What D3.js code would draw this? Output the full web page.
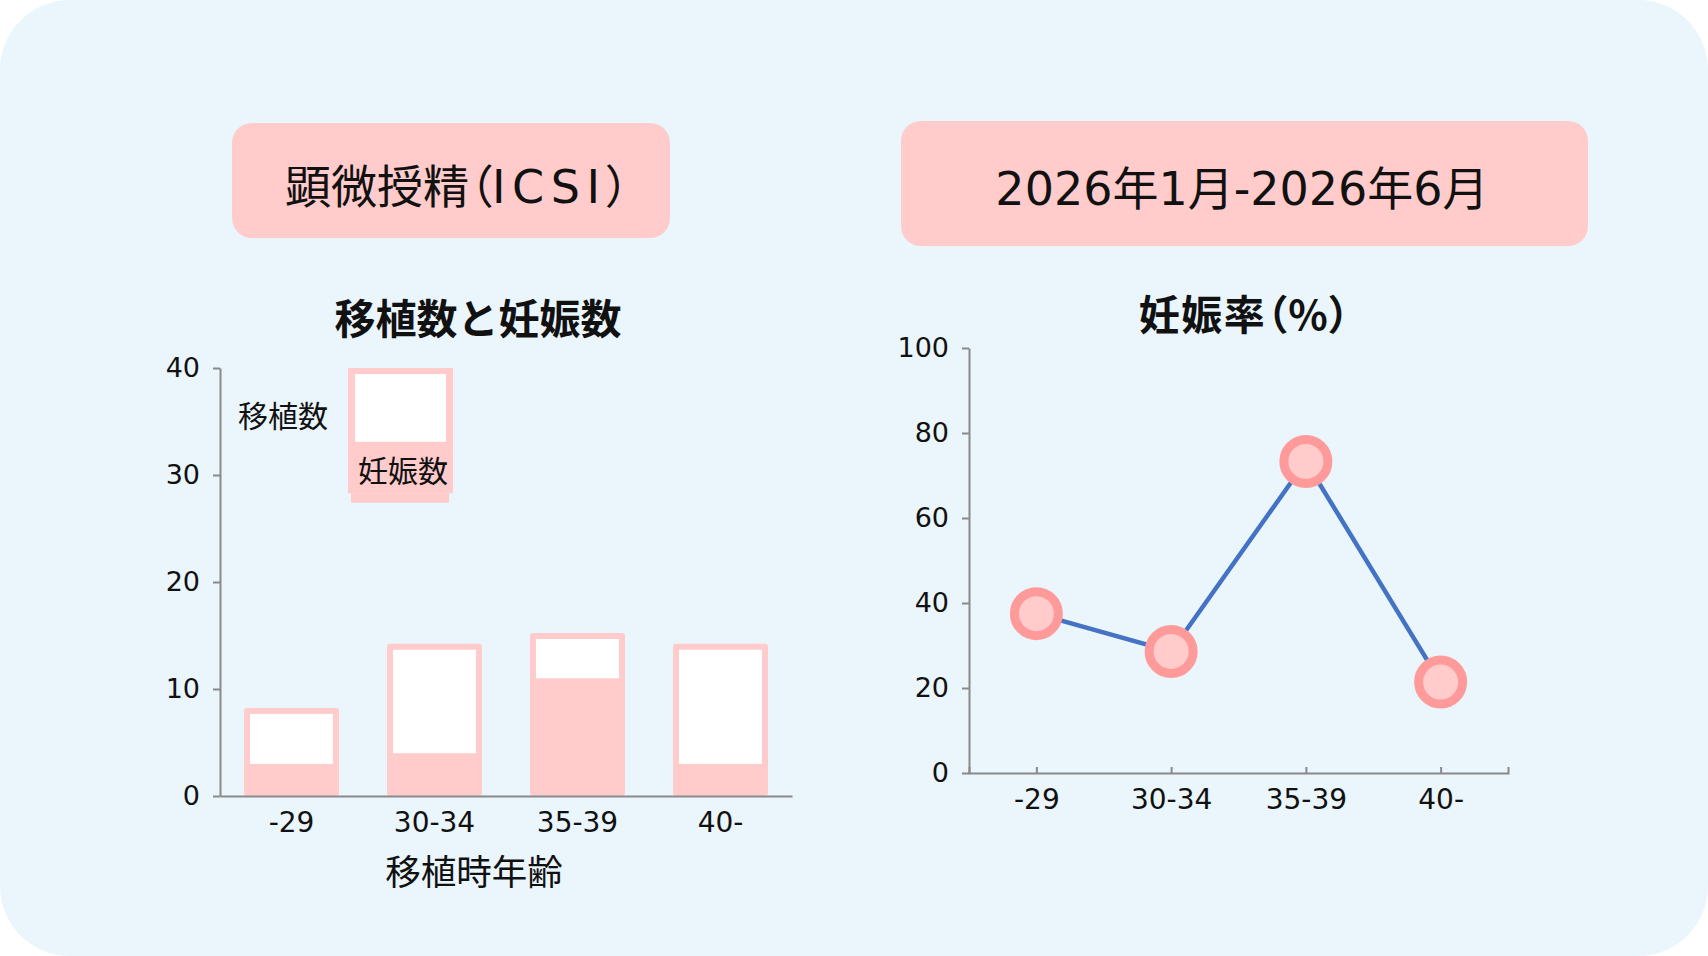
<!DOCTYPE html>
<html lang="ja">
<head>
<meta charset="utf-8">
<script src="https://cdn.jsdelivr.net/npm/d3@7"></script>
<style>
  body { margin: 0; background: #fff; }
  svg { display: block; }
  .latin { font-family: "DejaVu Sans", "Noto Sans CJK JP", sans-serif; }
  .cjk { font-family: "Noto Sans CJK JP", "DejaVu Sans", sans-serif; }
  .palt { font-feature-settings: "palt"; }
</style>
</head>
<body>
<svg id="chart" width="1708" height="956"></svg>
<script>
// data
const ageGroups = ["-29", "30-34", "35-39", "40-"];
const transfers = [8, 14, 15, 14];
const pregnancies = [3, 4, 11, 3];
const rates = [37.5, 28.6, 73.3, 21.4];
const countTicks = [0, 10, 20, 30, 40];
const rateTicks = [0, 20, 40, 60, 80, 100];

const pink = "#ffcbcb";
const pinkDark = "#ff9a9a";
const axisGrey = "#8a8a8a";

const svg = d3.select("#chart");

// panel background
svg.append("rect")
    .attr("width", 1708)
    .attr("height", 956)
    .attr("rx", 70)
    .attr("fill", "#eaf5fc");

// header boxes
svg.append("rect")
    .attr("x", 232).attr("y", 123)
    .attr("width", 438).attr("height", 115)
    .attr("rx", 20)
    .attr("fill", pink);

const head1 = svg.append("text")
    .attr("class", "latin palt")
    .attr("x", 285).attr("y", 203)
    .attr("font-size", 46)
    .attr("fill", "#111");
head1.append("tspan").attr("class", "cjk").text("顕微授精（");
head1.append("tspan").attr("letter-spacing", 6.5).text("ICSI");
head1.append("tspan").attr("class", "cjk").text("）");

svg.append("rect")
    .attr("x", 901).attr("y", 121)
    .attr("width", 687).attr("height", 125)
    .attr("rx", 20)
    .attr("fill", pink);

svg.append("text")
    .attr("class", "latin")
    .attr("x", 1242).attr("y", 205)
    .attr("text-anchor", "middle")
    .attr("font-size", 46)
    .attr("fill", "#111")
    .text("2026年1月-2026年6月");

// chart titles
svg.append("text")
    .attr("class", "cjk")
    .attr("x", 478).attr("y", 334)
    .attr("text-anchor", "middle")
    .attr("font-size", 41)
    .attr("font-weight", 700)
    .attr("fill", "#111")
    .text("移植数と妊娠数");

svg.append("text")
    .attr("class", "cjk palt")
    .attr("x", 1245).attr("y", 330)
    .attr("text-anchor", "middle")
    .attr("font-size", 41)
    .attr("font-weight", 700)
    .attr("letter-spacing", 1.5)
    .attr("fill", "#111")
    .text("妊娠率（%）");

function styleAxis(g) {
  g.select(".domain").attr("stroke", axisGrey).attr("stroke-width", 2);
  g.selectAll(".tick line").attr("stroke", axisGrey).attr("stroke-width", 2);
  g.selectAll(".tick text")
      .attr("class", "latin")
      .attr("font-size", 27)
      .attr("fill", "#111");
}

// ---- left: transfers and pregnancies ----
const xL = d3.scaleBand()
    .domain(ageGroups)
    .range([220, 792])
    .paddingInner(0.336)
    .paddingOuter(0.168);

const yL = d3.scaleLinear()
    .domain([0, 40])
    .range([796, 368]);

const bars = ageGroups.map((a, i) => ({ age: a, total: transfers[i], preg: pregnancies[i] }));
const edge = 2.5;  // pink border sits half outside the value line
const inset = 6;

const barG = svg.append("g");

barG.selectAll("rect.total")
    .data(bars)
  .enter().append("rect")
    .attr("class", "total")
    .attr("x", d => xL(d.age))
    .attr("y", d => yL(d.total) - edge)
    .attr("width", xL.bandwidth())
    .attr("height", d => yL(0) - yL(d.total) + edge)
    .attr("rx", 3)
    .attr("fill", pink);

barG.selectAll("rect.rest")
    .data(bars)
  .enter().append("rect")
    .attr("class", "rest")
    .attr("x", d => xL(d.age) + inset)
    .attr("y", d => yL(d.total) - edge + inset)
    .attr("width", xL.bandwidth() - inset * 2)
    .attr("height", d => yL(d.preg) - yL(d.total) + edge - inset)
    .attr("fill", "#fff");

svg.append("g")
    .attr("transform", `translate(220,0)`)
    .call(d3.axisLeft(yL).tickValues(countTicks).tickSize(7).tickPadding(13).tickSizeOuter(0))
    .call(styleAxis);

svg.append("g")
    .attr("transform", `translate(0,${yL(0)})`)
    .call(d3.axisBottom(xL).tickSize(0).tickPadding(16).tickSizeOuter(0))
    .call(styleAxis)
    .call(g => g.selectAll(".tick text").attr("font-size", 28));

svg.append("text")
    .attr("class", "cjk")
    .attr("x", 474).attr("y", 885)
    .attr("text-anchor", "middle")
    .attr("font-size", 35.5)
    .attr("fill", "#111")
    .text("移植時年齢");

// legend, drawn like a sample bar
const legend = svg.append("g");
legend.append("rect")
    .attr("x", 348).attr("y", yL(40))
    .attr("width", 105).attr("height", yL(28.3) - yL(40))
    .attr("fill", pink);
legend.append("rect")
    .attr("x", 351).attr("y", yL(28.3))
    .attr("width", 98).attr("height", yL(27.4) - yL(28.3))
    .attr("fill", pink);
legend.append("rect")
    .attr("x", 355).attr("y", yL(40) + inset)
    .attr("width", 91).attr("height", yL(33.1) - yL(40) - inset)
    .attr("fill", "#fff");
legend.append("text")
    .attr("class", "cjk")
    .attr("x", 283).attr("y", 427)
    .attr("text-anchor", "middle")
    .attr("font-size", 30)
    .attr("fill", "#111")
    .text("移植数");
legend.append("text")
    .attr("class", "cjk")
    .attr("x", 403).attr("y", 482)
    .attr("text-anchor", "middle")
    .attr("font-size", 30)
    .attr("fill", "#111")
    .text("妊娠数");

// ---- right: pregnancy rate ----
const xR = d3.scalePoint()
    .domain(ageGroups)
    .range([969, 1508])
    .padding(0.5);

const yR = d3.scaleLinear()
    .domain([0, 100])
    .range([773, 348]);

svg.append("g")
    .attr("transform", `translate(969,0)`)
    .call(d3.axisLeft(yR).tickValues(rateTicks).tickSize(7).tickPadding(13).tickSizeOuter(0))
    .call(styleAxis);

svg.append("g")
    .attr("transform", `translate(0,${yR(0)})`)
    .call(d3.axisBottom(xR).tickSize(-6).tickPadding(16).tickSizeOuter(-6))
    .call(styleAxis)
    .call(g => g.selectAll(".tick text").attr("font-size", 28));

const points = ageGroups.map((a, i) => ({ age: a, rate: rates[i] }));

svg.append("path")
    .datum(points)
    .attr("fill", "none")
    .attr("stroke", "#4472c4")
    .attr("stroke-width", 4.5)
    .attr("d", d3.line().x(d => xR(d.age)).y(d => yR(d.rate)));

svg.selectAll("circle.pt")
    .data(points)
  .enter().append("circle")
    .attr("class", "pt")
    .attr("cx", d => xR(d.age))
    .attr("cy", d => yR(d.rate))
    .attr("r", 22)
    .attr("fill", pink)
    .attr("stroke", pinkDark)
    .attr("stroke-width", 9);
</script>
</body>
</html>
